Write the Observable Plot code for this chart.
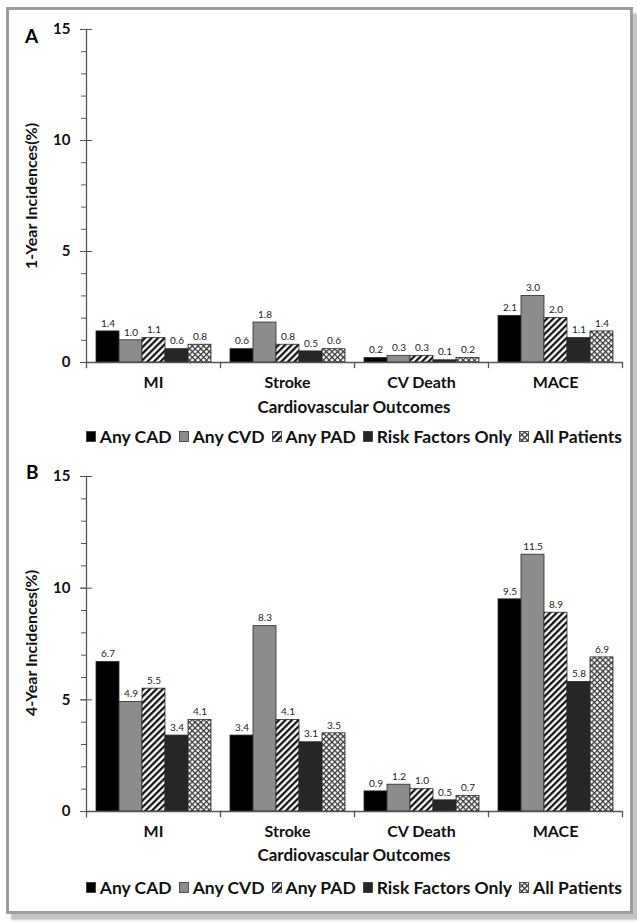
<!DOCTYPE html>
<html><head><meta charset="utf-8">
<script src="https://cdn.jsdelivr.net/npm/d3@7"></script>
<script src="https://cdn.jsdelivr.net/npm/@observablehq/plot@0.6"></script>
<style>
body{margin:0;background:#fff;font-family:Lato,sans-serif;}
#page{position:relative;width:637px;height:922px;overflow:hidden;background:#fff;}
#frame{position:absolute;left:6px;top:7px;width:621px;height:901px;border:3px solid #9d9d9d;box-shadow:5px 6px 2px #c4c4c4;}
.abs{position:absolute;}
.letter{font-weight:bold;font-size:19px;color:#000;line-height:1;}
.xtitle{font-weight:bold;font-size:17px;color:#111;text-align:center;line-height:1;white-space:nowrap;}
.ytitle{font-weight:bold;font-size:16px;color:#111;line-height:1;white-space:nowrap;transform:translate(-50%,-50%) rotate(-90deg);}
.legend{display:flex;align-items:center;justify-content:flex-end;font-weight:bold;font-size:17.5px;color:#111;white-space:nowrap;line-height:1;}
.legend span.item{display:flex;align-items:center;margin-left:7px;}
.legend svg{margin-right:4px;}
</style></head>
<body>
<div id="page">
<svg width="0" height="0" style="position:absolute">
  <defs>
    <pattern id="hatch" patternUnits="userSpaceOnUse" width="4.6" height="4.6" patternTransform="rotate(45)">
      <rect width="4.6" height="4.6" fill="#fff"/>
      <line x1="1.2" y1="0" x2="1.2" y2="4.6" stroke="#000" stroke-width="2.1"/>
    </pattern>
    <pattern id="check" patternUnits="userSpaceOnUse" width="4" height="4" patternTransform="rotate(45)">
      <rect width="4" height="4" fill="#fff"/>
      <line x1="0" y1="0.6" x2="4" y2="0.6" stroke="#333" stroke-width="1.3"/>
      <line x1="0.6" y1="0" x2="0.6" y2="4" stroke="#333" stroke-width="1.3"/>
    </pattern>
  </defs>
</svg>
<div id="frame"></div>
</div>
<script>
// ---- data ----
const outcomes = ["MI", "Stroke", "CV Death", "MACE"];
const groups = ["Any CAD", "Any CVD", "Any PAD", "Risk Factors Only", "All Patients"];
const groupFills = ["#000000", "#8c8c8c", "url(#hatch)", "#262626", "url(#check)"];
const yTicks = [0, 5, 10, 15];

// Panel A: 1-year incidences (%), values per outcome (MI, Stroke, CV Death, MACE)
const yr1AnyCAD = [1.4, 0.6, 0.2, 2.1];
const yr1AnyCVD = [1.0, 1.8, 0.3, 3.0];
const yr1AnyPAD = [1.1, 0.8, 0.3, 2.0];
const yr1RiskOnly = [0.6, 0.5, 0.1, 1.1];
const yr1AllPatients = [0.8, 0.6, 0.2, 1.4];

// Panel B: 4-year incidences (%)
const yr4AnyCAD = [6.7, 3.4, 0.9, 9.5];
const yr4AnyCVD = [4.9, 8.3, 1.2, 11.5];
const yr4AnyPAD = [5.5, 4.1, 1.0, 8.9];
const yr4RiskOnly = [3.4, 3.1, 0.5, 5.8];
const yr4AllPatients = [4.1, 3.5, 0.7, 6.9];

const page = document.getElementById("page");

function rowsOf(series) {
  const rows = [];
  groups.forEach((g, gi) => outcomes.forEach((o, oi) => rows.push({outcome: o, group: g, value: series[gi][oi]})));
  return rows;
}

function panel(series, top, plotH) {
  const rows = rowsOf(series);
  const mt = 29, mb = 40;
  const chart = Plot.plot({
    width: 637, height: mt + plotH + mb,
    marginLeft: 86, marginRight: 15, marginTop: mt, marginBottom: mb,
    style: {fontFamily: "Lato, sans-serif", fontSize: "14px", color: "#333", background: "transparent", overflow: "visible"},
    fx: {domain: outcomes, padding: 0, label: null, axis: null},
    x: {domain: groups, padding: 0, paddingOuter: 0.41, axis: null},
    y: {domain: [0, 15], axis: null},
    color: {domain: groups, range: groupFills},
    marks: [
      Plot.barY(rows, {fx: "outcome", x: "group", y: "value", fill: "group", stroke: "#2a2a2a", strokeWidth: 0.8}),
      Plot.text(rows, {fx: "outcome", x: "group", y: "value", text: d => d.value.toFixed(1), dy: -8, fontSize: 10, fill: "#222"}),
      Plot.ruleY([0], {stroke: "#555", strokeWidth: 1.3}),
      Plot.frame({anchor: "left", facetAnchor: "left", stroke: "#555", strokeWidth: 1.3, insetBottom: -5}),
      Plot.frame({anchor: "right", insetTop: plotH, insetBottom: -5, stroke: "#555", strokeWidth: 1.3}),
      Plot.axisY({ticks: d3.range(0, 16), tickSize: 5, tickFormat: () => "", label: null, stroke: "#555"}),
      Plot.axisY({ticks: yTicks, tickSize: -6, tickFormat: () => "", label: null, stroke: "#555"}),
      Plot.axisY({ticks: yTicks, tickSize: 6, tickPadding: 10, fontWeight: "bold", fontSize: 15, fill: "#111", stroke: "#555", label: null}),
      Plot.axisFx({anchor: "bottom", tickSize: 0, tickPadding: 14, fontWeight: "bold", fontSize: 16, fill: "#111", label: null})
    ]
  });
  chart.style.position = "absolute";
  chart.style.left = "0px";
  chart.style.top = top + "px";
  page.appendChild(chart);
}

panel([yr1AnyCAD, yr1AnyCVD, yr1AnyPAD, yr1RiskOnly, yr1AllPatients], 0, 333);
panel([yr4AnyCAD, yr4AnyCVD, yr4AnyPAD, yr4RiskOnly, yr4AllPatients], 447, 335);

function addDiv(cls, text, css) {
  const d = document.createElement("div");
  d.className = "abs " + cls;
  d.textContent = text;
  Object.assign(d.style, css);
  page.appendChild(d);
  return d;
}
addDiv("letter", "A", {left: "25px", top: "26px"});
addDiv("letter", "B", {left: "26px", top: "462px"});
addDiv("ytitle", "1-Year Incidences(%)", {left: "31px", top: "196px"});
addDiv("ytitle", "4-Year Incidences(%)", {left: "31px", top: "643px"});
addDiv("xtitle", "Cardiovascular Outcomes", {left: "86px", width: "536px", top: "398px"});
addDiv("xtitle", "Cardiovascular Outcomes", {left: "86px", width: "536px", top: "846px"});

function legend(top) {
  const lg = document.createElement("div");
  lg.className = "abs legend";
  Object.assign(lg.style, {left: "0px", width: "622px", top: top + "px"});
  groups.forEach((g, i) => {
    const it = document.createElement("span");
    it.className = "item";
    it.innerHTML = `<svg width="10" height="11"><rect x="0.5" y="0.5" width="9" height="10" fill="${groupFills[i]}" stroke="#333" stroke-width="0.8"/></svg>`;
    it.appendChild(document.createTextNode(g));
    lg.appendChild(it);
  });
  page.appendChild(lg);
}
legend(428);
legend(879);
</script>
</body></html>
